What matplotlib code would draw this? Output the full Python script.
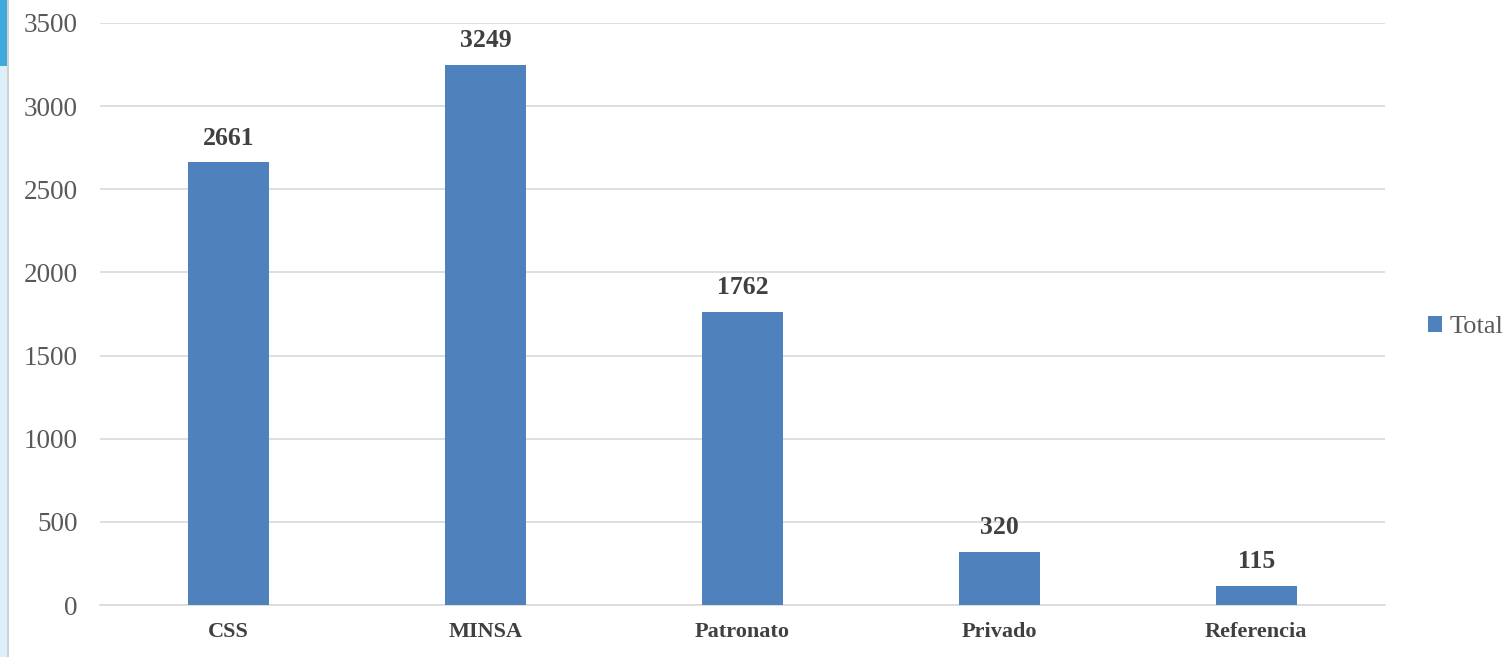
import matplotlib
matplotlib.use("Agg")
import matplotlib.pyplot as plt
from matplotlib.patches import Rectangle

categories = ["CSS", "MINSA", "Patronato", "Privado", "Referencia"]
values = [2661, 3249, 1762, 320, 115]
yticks = [0, 500, 1000, 1500, 2000, 2500, 3000, 3500]
series_name = "Total"

plt.rcParams['font.family'] = ['Liberation Serif', 'DejaVu Serif']

fig = plt.figure(figsize=(15.1, 6.57), dpi=100)
ax = fig.add_axes([0.0662, 0.0791, 0.8508, 0.886])

# left slide decoration strip
fig.patches.append(Rectangle((0, 0), 0.0045, 1, transform=fig.transFigure,
                             facecolor="#DDEFF8", edgecolor="none", zorder=0))
fig.patches.append(Rectangle((0, 0.9), 0.0045, 0.1, transform=fig.transFigure,
                             facecolor="#3FA9DE", edgecolor="none", zorder=0))
fig.patches.append(Rectangle((0.0045, 0), 0.0012, 1, transform=fig.transFigure,
                             facecolor="#D0D0D0", edgecolor="none", zorder=0))

x = list(range(len(categories)))
bars = ax.bar(x, values, width=0.315, color="#4F81BD", zorder=3, label=series_name)
for xi, v in zip(x, values):
    ax.annotate(str(v), (xi, v), xytext=(0, 9), textcoords="offset points",
                ha="center", va="bottom", fontsize=18.5, fontweight="bold", color="#404040")

ax.set_xlim(-0.5, 4.5)
ax.set_ylim(0, 3500)
ax.set_yticks(yticks)
ax.set_yticklabels([str(t) for t in yticks], fontsize=19.5, color="#595959")
ax.set_xticks(x)
ax.set_xticklabels(categories, fontsize=16, fontweight="bold", color="#404040")
ax.grid(axis="y", color="#D9D9D9", linewidth=1.2, zorder=0)
for s in ["top", "right", "left"]:
    ax.spines[s].set_visible(False)
ax.spines["bottom"].set_color("#D9D9D9")
ax.spines["bottom"].set_linewidth(1.2)
ax.tick_params(axis="both", length=0)
ax.tick_params(axis="y", pad=16)
ax.tick_params(axis="x", pad=12)

leg = ax.legend(loc="center left", bbox_to_anchor=(1.019, 0.478), frameon=False,
                fontsize=19, handlelength=0.55, handleheight=0.55, handletextpad=0.3,
                borderaxespad=0.3)
for t in leg.get_texts():
    t.set_color("#595959")

fig.savefig("out.png", dpi=100)
